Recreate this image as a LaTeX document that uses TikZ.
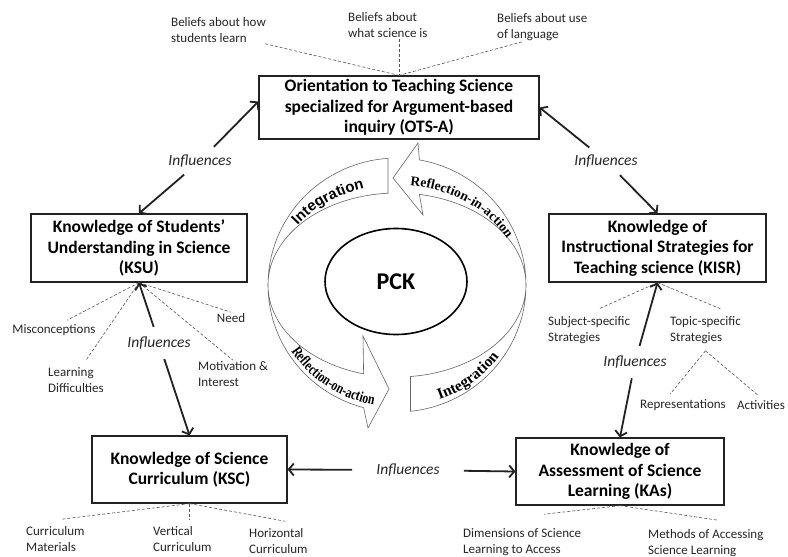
\documentclass[tikz,border=0pt]{standalone}
\usepackage{fontspec}
\setmainfont{Carlito}
\newfontfamily\bandsans{Liberation Sans}
\newfontfamily\bandserif{Liberation Serif}
\newfontfamily\bandnarrow[FakeStretch=0.78]{Liberation Serif}
\usepackage{tikz}
\usetikzlibrary{positioning,arrows.meta,shapes.geometric,decorations.text}
\usepackage{xcolor}
\definecolor{inkgray}{HTML}{222222}
\definecolor{dashgray}{HTML}{555555}
\newcommand\bandIntA{\bandsans\bfseries\fontsize{15}{15}\selectfont}
\newcommand\bandRefIn{\bandserif\bfseries\fontsize{13.5}{13.5}\selectfont}
\newcommand\bandRefOn{\bandnarrow\bfseries\fontsize{15}{15}\selectfont}
\newcommand\bandIntB{\bandserif\bfseries\fontsize{15.5}{15.5}\selectfont}

\begin{document}
\begin{tikzpicture}[x=1pt, y=-1pt,
    boxNode/.style={rectangle, draw=inkgray, line width=1.2pt, fill=white, align=center, inner sep=0pt, font=\bfseries\fontsize{17.5}{20.5}\selectfont},
    labelNode/.style={align=left, inner sep=1pt, font=\fontsize{13}{16}\selectfont, text=black!85},
    inflNode/.style={inner sep=2pt, font=\itshape\fontsize{15.5}{17}\selectfont, text=black!85},
    arrowInfl/.style={-{Straight Barb[length=5pt,width=12pt]}, line width=1.8pt, draw=inkgray, shorten <=8pt},
    dashLink/.style={densely dashed, draw=dashgray, line width=0.6pt},
    bandShape/.style={draw=black!60, line width=0.6pt, fill=white}
]
    \useasboundingbox (0,0) rectangle (788,557);
    \fill[white] (0,0) rectangle (788,557);

    % Cycle round PCK
    \draw[bandShape] plot[domain=180:94, samples=40] ({397+129*cos(\x)},{285-127*sin(\x)})
        -- plot[domain=94:180, samples=40] ({397+129*cos(\x)},{285-92*sin(\x)}) -- cycle;
    \draw[bandShape] plot[domain=0:80, samples=40] ({397+129*cos(\x)},{285-127*sin(\x)})
        -- (418,143) -- (393,178) -- (423,215)
        -- plot[domain=80:0, samples=40] ({397+129*cos(\x)},{285-92*sin(\x)}) -- cycle;
    \draw[bandShape] plot[domain=180:255, samples=40] ({397+129*cos(\x)},{285-127*sin(\x)})
        -- (368,428) -- (389,389) -- (363,336)
        -- plot[domain=255:180, samples=40] ({397+129*cos(\x)},{285-92*sin(\x)}) -- cycle;
    \draw[bandShape] plot[domain=276:360, samples=40] ({397+129*cos(\x)},{285-127*sin(\x)})
        -- plot[domain=360:276, samples=40] ({397+129*cos(\x)},{285-92*sin(\x)}) -- cycle;

    \path[decorate, decoration={text along path, text align=center, text={|\bandIntA|Integration}}]
        plot[domain=154:96, samples=60] ({397+124*cos(\x)},{285-100*sin(\x)});
    \path[decorate, decoration={text along path, text align=center, text={|\bandRefIn|Reflection-in-action}}]
        plot[domain=92:18, samples=60] ({397+124*cos(\x)},{285-100*sin(\x)});
    \path[decorate, decoration={text along path, text align=center, text={|\bandRefOn|Reflection-on-action}}]
        plot[domain=206:266, samples=60] ({397+126*cos(\x)},{285-122*sin(\x)});
    \path[decorate, decoration={text along path, text align=center, text={|\bandIntB|Integration}}]
        plot[domain=282:332, samples=60] ({397+126*cos(\x)},{285-122*sin(\x)});

    \node[draw=black, line width=1.6pt, ellipse, minimum width=142pt, minimum height=106pt, inner sep=0pt,
        font=\bfseries\fontsize{24}{24}\selectfont] (pck) at (396,281.5) {PCK};

    % Knowledge boxes
    \node[boxNode, minimum width=280pt, minimum height=63pt] (ots) at (399,107.5)
        {Orientation to Teaching Science\\specialized for Argument-based\\inquiry (OTS-A)};
    \node[boxNode, minimum width=216pt, minimum height=68pt] (ksu) at (139,248)
        {Knowledge of Students'\\Understanding in Science\\(KSU)};
    \node[boxNode, minimum width=217pt, minimum height=68pt] (kisr) at (657.5,248)
        {Knowledge of\\Instructional Strategies for\\Teaching science (KISR)};
    \node[boxNode, minimum width=195pt, minimum height=67pt] (ksc) at (189.5,469.5)
        {Knowledge of Science\\Curriculum (KSC)};
    \node[boxNode, minimum width=208pt, minimum height=67pt] (kas) at (620,471.5)
        {Knowledge of\\Assessment of Science\\Learning (KAs)};

    % Beliefs (OTS-A)
    \node[labelNode, anchor=west] (bel1) at (170,30) {Beliefs about how\\students learn};
    \node[labelNode, anchor=west] (bel2) at (347,25) {Beliefs about\\what science is};
    \node[labelNode, anchor=west] (bel3) at (496,27) {Beliefs about use\\of language};
    \draw[dashLink] ([xshift=-2pt]bel1.south east) -- (ots.north);
    \draw[dashLink] (bel2.south -| ots.north) -- (ots.north);
    \draw[dashLink] ([xshift=26pt]bel3.south west) -- (ots.north);

    % Components of KSU
    \node[labelNode] (mis) at (54,330) {Misconceptions};
    \node[labelNode, anchor=west] (ldf) at (47,380) {Learning\\Difficulties};
    \node[labelNode] (need) at (231,318) {Need};
    \node[labelNode, anchor=west] (mot) at (197,374) {Motivation \&\\Interest};
    \draw[dashLink] (ksu.south) -- ([xshift=13pt,yshift=3pt]mis.north);
    \draw[dashLink] (ksu.south) -- ([xshift=10pt,yshift=6pt]ldf.north);
    \draw[dashLink] (ksu.south) -- (need.north);
    \draw[dashLink] (ksu.south) -- (mot.north);

    % Components of KISR
    \node[labelNode, anchor=west] (subj) at (547,330) {Subject-specific\\Strategies};
    \node[labelNode, anchor=west] (topic) at (669,330) {Topic-specific\\Strategies};
    \node[labelNode] (repr) at (683,405) {Representations};
    \node[labelNode] (actv) at (761,405) {Activities};
    \draw[dashLink] (kisr.south) -- ([xshift=9pt,yshift=6pt]subj.north);
    \draw[dashLink] (kisr.south) -- ([xshift=16pt,yshift=6pt]topic.north);
    \draw[dashLink] ([yshift=-6pt]topic.south) -- ([xshift=-13pt,yshift=4pt]repr.north);
    \draw[dashLink] ([yshift=-6pt]topic.south) -- ([xshift=-3pt,yshift=4pt]actv.north);

    % Components of KSC
    \node[labelNode, anchor=west] (cmat) at (25,539) {Curriculum\\Materials};
    \node[labelNode, anchor=west] (vert) at (152,539) {Vertical\\Curriculum};
    \node[labelNode, anchor=west] (horz) at (248,541) {Horizontal\\Curriculum};
    \draw[dashLink] (ksc.south) -- ([xshift=6pt,yshift=6pt]cmat.north);
    \draw[dashLink, shorten >=5pt] (ksc.south) -- (ksc.south |- vert.north);
    \draw[dashLink] (ksc.south) -- ([xshift=7pt,yshift=6pt]horz.north);

    % Components of KAs
    \node[labelNode, anchor=west] (dims) at (462,542) {Dimensions of Science\\Learning to Access};
    \node[labelNode, anchor=west] (meth) at (647,543) {Methods of Accessing\\Science Learning};
    \draw[dashLink] (kas.south) -- ([xshift=22pt,yshift=13pt]dims.north);
    \draw[dashLink] (kas.south) -- ([xshift=12pt,yshift=8pt]meth.north);

    % Influences
    \node[inflNode] (inf1) at (200,161) {Influences};
    \draw[arrowInfl] (inf1) -- ([yshift=6pt]ots.west);
    \draw[arrowInfl] (inf1) -- (ksu.north);

    \node[inflNode] (inf2) at (606,161) {Influences};
    \draw[arrowInfl] (inf2) -- (ots.east);
    \draw[arrowInfl] (inf2) -- (kisr.north);

    \node[inflNode] (inf3) at (159,343) {Influences};
    \draw[arrowInfl] (inf3) -- (ksu.south);
    \draw[arrowInfl] (inf3) -- (ksc.north);

    \node[inflNode] (inf4) at (635,362) {Influences};
    \draw[arrowInfl] (inf4) -- (kisr.south);
    \draw[arrowInfl] (inf4) -- (kas.north);

    \node[inflNode] (inf5) at (408,470) {Influences};
    \draw[arrowInfl, shorten <=22pt] (inf5) -- (ksc.east);
    \draw[arrowInfl, shorten <=22pt] (inf5) -- (kas.west);
\end{tikzpicture}
\end{document}
